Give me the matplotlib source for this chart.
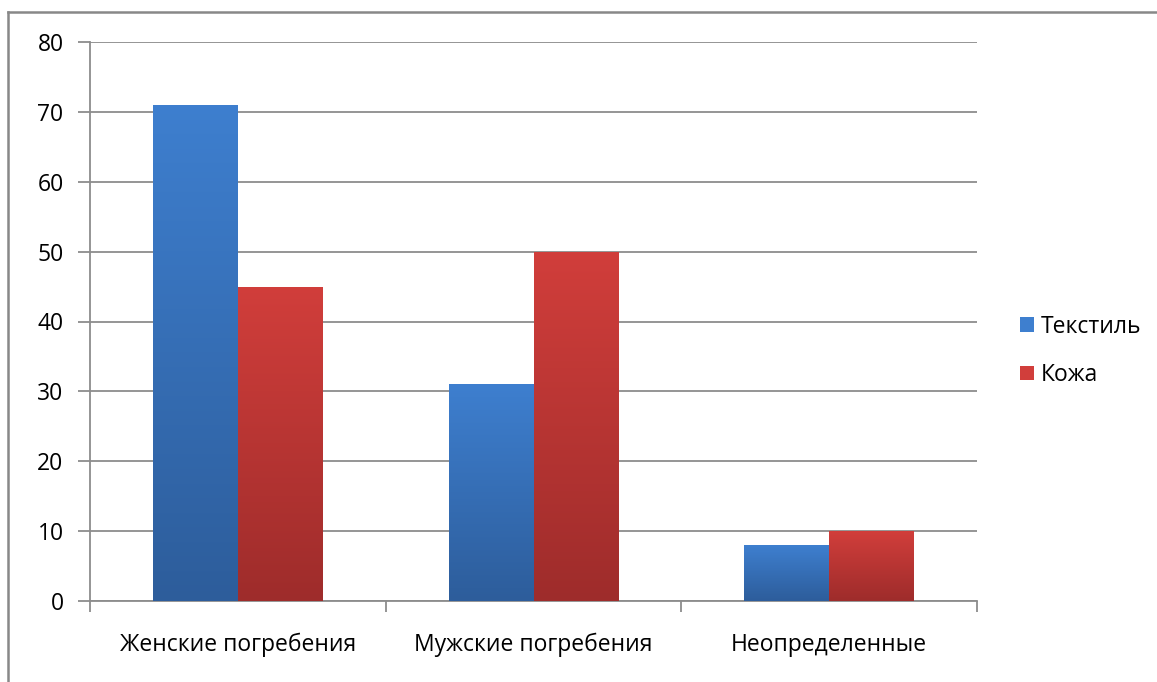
import numpy as np
import matplotlib.pyplot as plt
from matplotlib.colors import LinearSegmentedColormap
from matplotlib.lines import Line2D
from matplotlib.patches import Patch

categories = ["Женские погребения", "Мужские погребения", "Неопределенные"]
textile = [71, 31, 8]
leather = [45, 50, 10]
series_names = ["Текстиль", "Кожа"]

plt.rcParams["font.family"] = ["Open Sans", "DejaVu Sans"]

grid_color = "#8c8c8c"
blue_top, blue_bottom = "#3e7fcf", "#2d5d9b"
red_top, red_bottom = "#d13e3b", "#9e2c2b"
fs = 16.5

fig = plt.figure(figsize=(11.57, 6.82), dpi=100)
ax = fig.add_axes([90 / 1157, 81 / 682, 887 / 1157, 559 / 682])

x = np.arange(len(categories))
width = 0.287
bars_t = ax.bar(x - width / 2, textile, width, color=blue_top, zorder=3)
bars_l = ax.bar(x + width / 2, leather, width, color=red_top, zorder=3)

# vertical gradient on each bar, clipped to the bar shape
grad = np.linspace(1, 0, 256).reshape(-1, 1)
for bars, (c_top, c_bot) in [(bars_t, (blue_top, blue_bottom)), (bars_l, (red_top, red_bottom))]:
    cmap = LinearSegmentedColormap.from_list("g", [c_bot, c_top])
    for p in bars:
        x0, y0 = p.get_x(), p.get_y()
        im = ax.imshow(grad, cmap=cmap, aspect="auto", zorder=4,
                       extent=(x0, x0 + p.get_width(), y0, y0 + p.get_height()))
        im.set_clip_path(p)

ax.set_xlim(-0.5, len(categories) - 0.5)
ax.set_ylim(0, 80)
ax.set_yticks(range(0, 81, 10))
ax.yaxis.grid(True, color=grid_color, linewidth=1.3, zorder=0)
ax.set_axisbelow(True)

ax.set_xticks(x)
ax.set_xticklabels(categories)
ax.set_xticks(np.arange(-0.5, len(categories)), minor=True)
ax.tick_params(axis="x", which="major", length=0, pad=23, labelsize=fs)
ax.tick_params(axis="x", which="minor", length=8, width=1.3, color=grid_color)
ax.tick_params(axis="y", length=9, width=1.3, color=grid_color, pad=10, labelsize=fs)

for side in ["top", "right"]:
    ax.spines[side].set_visible(False)
for side in ["left", "bottom"]:
    ax.spines[side].set_color(grid_color)
    ax.spines[side].set_linewidth(1.3)

handles = [Patch(facecolor=blue_top), Patch(facecolor=red_top)]
fig.legend(handles, series_names, loc="center left", bbox_to_anchor=(1020 / 1157, 1 - 351 / 682),
           frameon=False, fontsize=fs, handlelength=0.62, handleheight=0.62,
           handletextpad=0.3, labelspacing=1.05, borderpad=0, borderaxespad=0)

# chart border (top and left edges visible in the crop)
fig.add_artist(Line2D([8 / 1157, 8 / 1157], [0, 1 - 12 / 682], transform=fig.transFigure,
                      color="#888888", linewidth=1.8))
fig.add_artist(Line2D([8 / 1157, 1], [1 - 12 / 682, 1 - 12 / 682], transform=fig.transFigure,
                      color="#888888", linewidth=1.8))

fig.savefig("out.png", dpi=100)
